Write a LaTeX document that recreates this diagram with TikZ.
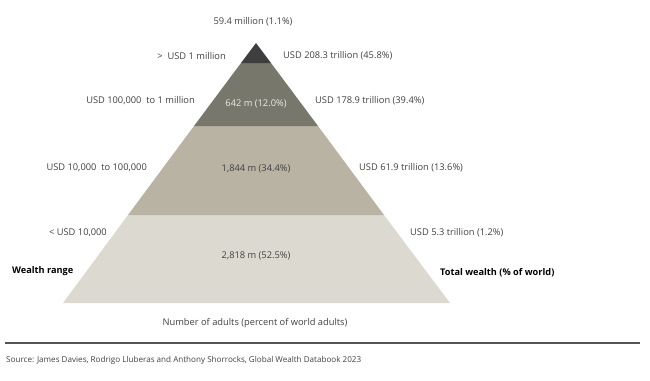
\documentclass[tikz,border=0pt]{standalone}
\usepackage{fontspec}
\setmainfont{Open Sans}
\definecolor{txt}{HTML}{404040}
\definecolor{bandA}{HTML}{3E3E3E}
\definecolor{bandB}{HTML}{77776C}
\definecolor{bandC}{HTML}{B8B3A3}
\definecolor{bandD}{HTML}{DCDAD0}
\definecolor{rule}{HTML}{555555}
\tikzset{
  lbl/.style={font=\fontsize{9.3}{11}\selectfont, text=txt, inner sep=0pt},
  lft/.style={lbl, anchor=east},
  rgt/.style={lbl, anchor=west},
  mid/.style={lbl, anchor=center},
  ttl/.style={lbl, font=\fontsize{9.2}{11}\selectfont\bfseries, text=black},
}
\begin{document}
\begin{tikzpicture}[x=1pt,y=-1pt]
\useasboundingbox (0,0) rectangle (650,380);
% pyramid bands
\fill[bandD] (63,303) -- (450,303) -- (384,215) -- (128,215) -- cycle;
\fill[bandC] (128,215) -- (384,215) -- (318,126) -- (194,126) -- cycle;
\fill[bandB] (194,126) -- (318,126) -- (271,63) -- (241,63) -- cycle;
\fill[bandA] (241,63) -- (271,63) -- (256,43) -- cycle;
% top
\node[mid] (topc) at (253,22) {59.4 million (1.1\%)};
% left labels
\node[lft] (l1) at (226,56) {>\ \ USD 1 million};
\node[lft] (l2) at (195,101) {USD 100,000\ \ to 1 million};
\node[lft] (l3) at (147,168) {USD 10,000\ \ to 100,000};
\node[lft] (l4) at (107,233) {< USD 10,000};
% right labels
\node[rgt] (r1) at (283,56) {USD 208.3 trillion (45.8\%)};
\node[rgt] (r2) at (315,101) {USD 178.9 trillion (39.4\%)};
\node[rgt] (r3) at (359,168) {USD 61.9 trillion (13.6\%)};
\node[rgt] (r4) at (410,233) {USD 5.3 trillion (1.2\%)};
% centre labels
\node[mid, text=white!85!bandB] (c2) at (256,104) {642 m (12.0\%)};
\node[mid] (c3) at (256,169) {1,844 m (34.4\%)};
\node[mid] (c4) at (256,256) {2,818 m (52.5\%)};
% titles
\node[ttl, anchor=west] (wr) at (12,271) {Wealth range};
\node[ttl, anchor=west] (tw) at (440,273) {Total wealth (\% of world)};
\node[mid] (na) at (255,323) {Number of adults (percent of world adults)};
% rule and source
\coordinate (ra) at (5,343);
\coordinate (rb) at (640,343);
\draw[rule, line width=1.3pt] (ra) -- (rb);
\node[lbl, anchor=west, font=\fontsize{8.1}{10}\selectfont, text=txt] (src) at (6,360) {Source: James Davies, Rodrigo Lluberas and Anthony Shorrocks, Global Wealth Databook 2023};
\end{tikzpicture}
\end{document}
